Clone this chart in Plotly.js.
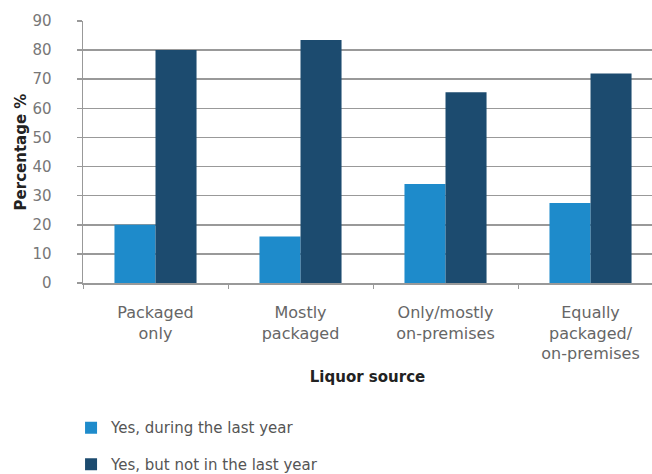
<!DOCTYPE html>
<html>
<head>
<meta charset="utf-8">
<script src="https://cdn.plot.ly/plotly-3.0.1.min.js"></script>
<style>html,body{margin:0;padding:0;background:#fff;}#chart{width:652px;height:474px;}</style>
</head>
<body>
<div id="chart"></div>
<script>
const categories = ["Packaged<br>only", "Mostly<br>packaged", "Only/mostly<br>on-premises", "Equally<br>packaged/<br>on-premises"];
const seriesNames = ["Yes, during the last year", "Yes, but not in the last year"];
const duringLastYear = [20, 16, 34, 27.5];
const notLastYear = [80, 83.5, 65.5, 72];
const yTicks = [0, 10, 20, 30, 40, 50, 60, 70, 80, 90];

const traces = [
  {type: 'bar', x: categories, y: duringLastYear, name: seriesNames[0], marker: {color: '#1e8bcb'}, legendgroup: 'a'},
  {type: 'bar', x: categories, y: notLastYear, name: seriesNames[1], marker: {color: '#1c4b6f'}, legendgroup: 'b'}
];

const layout = {
  width: 652, height: 474,
  margin: {l: 83, r: 0, t: 21, b: 191, autoexpand: false},
  paper_bgcolor: '#fff', plot_bgcolor: '#fff',
  barmode: 'group', bargap: 0.434, bargroupgap: 0,
  font: {family: 'DejaVu Sans', color: '#666', size: 14},
  xaxis: {
    range: [-0.5, 3.424],
    showline: true, linecolor: '#999', linewidth: 1.5,
    ticks: 'outside', tickson: 'boundaries', ticklen: 4, tickcolor: '#999',
    tickfont: {size: 16, color: '#666'},
    ticklabelstandoff: 14,
    showgrid: false, zeroline: false,
    automargin: false,
    title: {text: 'Liquor source', font: {size: 15, color: '#222', family: 'DejaVu Sans', weight: 'bold'}, standoff: 9}
  },
  yaxis: {
    range: [0, 90], tickvals: yTicks, ticktext: yTicks.map(String),
    showline: true, linecolor: '#999', linewidth: 1.5,
    ticks: 'outside', ticklen: 5, tickcolor: '#999', tickwidth: 1.5,
    gridcolor: '#999', gridwidth: 1.5,
    zeroline: false,
    tickfont: {size: 15, color: '#777'},
    ticklabelstandoff: 22,
    title: {text: 'Percentage %', font: {size: 15, color: '#222', family: 'DejaVu Sans', weight: 'bold'}, standoff: 2},
    automargin: false
  },
  showlegend: true,
  legend: {
    x: -0.021, xanchor: 'left', y: -0.49, yanchor: 'top',
    orientation: 'v', traceorder: 'grouped', tracegroupgap: 14,
    font: {size: 15, color: '#555'}, bgcolor: 'rgba(0,0,0,0)'
  }
};

Plotly.newPlot('chart', traces, layout, {displayModeBar: false, staticPlot: true});
</script>
</body>
</html>
